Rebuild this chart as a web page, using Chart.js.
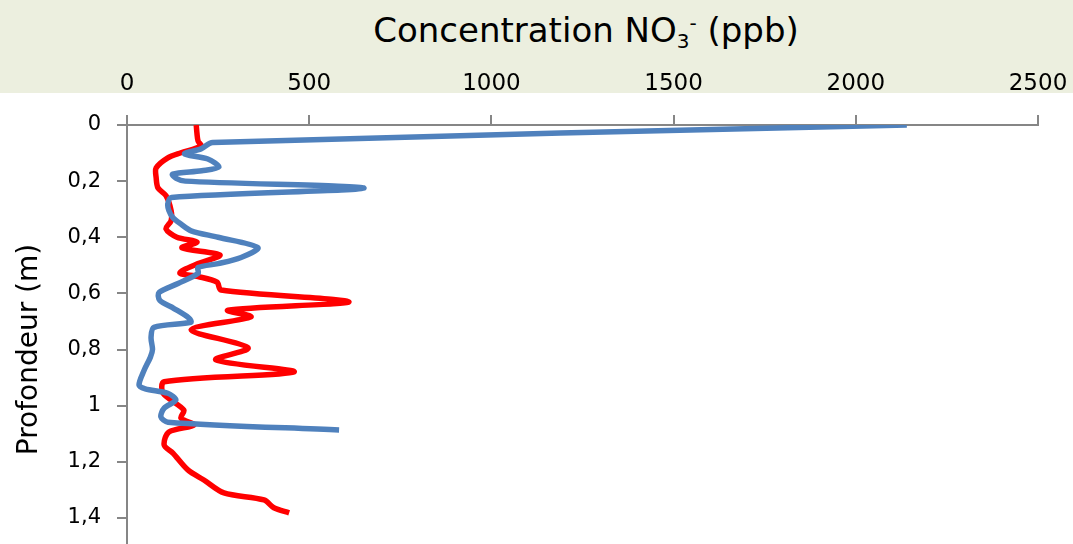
<!DOCTYPE html>
<html>
<head>
<meta charset="utf-8">
<script src="https://cdn.jsdelivr.net/npm/chart.js@4"></script>
<style>
  html, body { margin: 0; padding: 0; width: 1073px; height: 544px; overflow: hidden; background: #fff; }
  #band { position: absolute; left: 0; top: 0; width: 1073px; height: 93px; background: #ecefdf; }
  #title {
    position: absolute; left: 586px; top: 13px; transform: translateX(-50%);
    font-family: "DejaVu Sans", sans-serif; font-size: 34px; line-height: 34px;
    color: #000; white-space: nowrap;
  }
  #title sub { font-size: 20px; vertical-align: -6px; line-height: 0; }
  #title sup { font-size: 20px; vertical-align: 12px; line-height: 0; }
  #myChart { position: absolute; left: 0; top: 0; }
</style>
</head>
<body>
<div id="band"></div>
<div id="title">Concentration NO<sub>3</sub><sup>-</sup> (ppb)</div>
<canvas id="myChart" width="1073" height="600"></canvas>
<script>
// x ticks (ppb) and depth ticks (m)
const concTicks = [0, 500, 1000, 1500, 2000, 2500];
const concLabels = ["0", "500", "1000", "1500", "2000", "2500"];
const depthTicks = [0, 0.2, 0.4, 0.6, 0.8, 1, 1.2, 1.4, 1.6];
const depthLabels = ["0", "0,2", "0,4", "0,6", "0,8", "1", "1,2", "1,4", "1,6"];

// blue profile
const blueDepth = [0, 0.062, 0.085, 0.103, 0.121, 0.15, 0.163, 0.175, 0.19, 0.2, 0.225, 0.258, 0.281, 0.305, 0.33, 0.353, 0.377, 0.4, 0.437, 0.472, 0.494, 0.508, 0.529, 0.565, 0.597, 0.625, 0.654, 0.688, 0.703, 0.721, 0.757, 0.8, 0.828, 0.874, 0.927, 0.94, 0.956, 0.98, 1.009, 1.04, 1.059, 1.087];
const blueConc = [2140, 235, 203, 158, 222, 252, 205, 125, 135, 160, 650, 122, 112, 115, 126, 148, 176, 250, 359, 313, 250, 195, 195, 140, 88, 90, 129, 170, 175, 74, 66, 70, 64, 47, 33, 50, 112, 134, 102, 93, 112, 582];

// red profile
const redDepth = [0, 0.03, 0.057, 0.075, 0.099, 0.117, 0.153, 0.188, 0.224, 0.252, 0.305, 0.341, 0.37, 0.4, 0.417, 0.438, 0.463, 0.494, 0.527, 0.54, 0.56, 0.588, 0.63, 0.66, 0.684, 0.73, 0.794, 0.837, 0.88, 0.915, 0.956, 1.016, 1.044, 1.069, 1.094, 1.14, 1.169, 1.229, 1.265, 1.311, 1.336, 1.364, 1.382];
const redConc = [190, 192, 195, 203, 148, 112, 80, 80, 85, 107, 121, 121, 107, 137, 192, 151, 255, 195, 145, 195, 247, 258, 609, 277, 340, 176, 332, 244, 458, 102, 99, 156, 148, 184, 115, 102, 126, 167, 211, 266, 376, 403, 445];

function toPoints(xs, ys) {
  const pts = [];
  for (let i = 0; i < xs.length; i++) {
    pts.push({ x: xs[i], y: ys[i] });
  }
  return pts;
}

const font = "'DejaVu Sans', sans-serif";
const axisGray = "#868686";

const ctx = document.getElementById("myChart").getContext("2d");
const myChart = new Chart(ctx, {
  type: "scatter",
  data: {
    datasets: [
      {
        label: "Bleu",
        data: toPoints(blueConc, blueDepth),
        showLine: true,
        borderColor: "#4f81bd",
        borderWidth: 5.5,
        pointRadius: 0,
        tension: 0.3,
      },
      {
        label: "Rouge",
        data: toPoints(redConc, redDepth),
        showLine: true,
        borderColor: "#ff0000",
        borderWidth: 5.5,
        pointRadius: 0,
        tension: 0.3,
      },
    ],
  },
  options: {
    responsive: false,
    animation: false,
    layout: { padding: { top: 0, right: 35, bottom: 26, left: 0 } },
    plugins: {
      legend: { display: false },
      tooltip: { enabled: false },
    },
    scales: {
      x: {
        type: "linear",
        position: "top",
        min: 0,
        max: 2500,
        afterBuildTicks: (scale) => {
          scale.ticks = concTicks.map((v) => ({ value: v }));
        },
        afterFit: (scale) => {
          scale.height = 125;
          // labels may overhang, keep plot edge fixed
          scale.paddingRight = 0;
        },
        ticks: {
          font: { family: font, size: 23 },
          color: "#000",
          padding: 17,
          maxRotation: 0,
          callback: (value) => concLabels[concTicks.indexOf(value)],
        },
        grid: {
          drawOnChartArea: false,
          tickLength: 10,
          color: axisGray,
          lineWidth: 2,
        },
        border: { display: true, color: axisGray, width: 2 },
      },
      y: {
        type: "linear",
        reverse: true,
        min: 0,
        max: 1.6,
        afterBuildTicks: (scale) => {
          scale.ticks = depthTicks.map((v) => ({ value: v }));
        },
        afterFit: (scale) => {
          scale.width = 127;
          scale.paddingBottom = 0;
        },
        ticks: {
          font: { family: font, size: 21 },
          color: "#000",
          padding: 16,
          callback: (value) => depthLabels[depthTicks.indexOf(value)],
        },
        grid: {
          drawOnChartArea: false,
          tickLength: 10,
          color: axisGray,
          lineWidth: 2,
        },
        border: { display: true, color: axisGray, width: 2 },
        title: {
          display: true,
          text: "Profondeur (m)",
          font: { family: font, size: 28 },
          color: "#000",
          padding: { top: 13, bottom: 0 },
        },
      },
    },
  },
});
</script>
</body>
</html>
